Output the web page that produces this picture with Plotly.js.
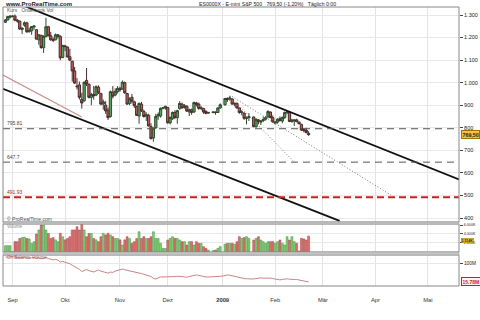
<!DOCTYPE html>
<html><head><meta charset="utf-8">
<script src="https://cdn.plot.ly/plotly-3.0.1.min.js"></script>
<style>html,body{margin:0;padding:0;background:#fff}#chart{width:480px;height:320px}</style>
</head><body><div id="chart"></div>
<script>
const dates = [
 '2008-08-27','2008-08-28','2008-08-29',
 '2008-09-01','2008-09-02','2008-09-03','2008-09-04','2008-09-05','2008-09-08','2008-09-09','2008-09-10','2008-09-11','2008-09-12',
 '2008-09-15','2008-09-16','2008-09-17','2008-09-18','2008-09-19','2008-09-22','2008-09-23','2008-09-24','2008-09-25','2008-09-26','2008-09-29','2008-09-30',
 '2008-10-01','2008-10-02','2008-10-03','2008-10-06','2008-10-07','2008-10-08','2008-10-09','2008-10-10','2008-10-13','2008-10-14','2008-10-15','2008-10-16',
 '2008-10-17','2008-10-20','2008-10-21','2008-10-22','2008-10-23','2008-10-24','2008-10-27','2008-10-28','2008-10-29','2008-10-30','2008-10-31',
 '2008-11-03','2008-11-04','2008-11-05','2008-11-06','2008-11-07','2008-11-10','2008-11-11','2008-11-12','2008-11-13','2008-11-14',
 '2008-11-17','2008-11-18','2008-11-19','2008-11-20','2008-11-21','2008-11-24','2008-11-25','2008-11-26','2008-11-27','2008-11-28',
 '2008-12-01','2008-12-02','2008-12-03','2008-12-04','2008-12-05','2008-12-08','2008-12-09','2008-12-10','2008-12-11','2008-12-12',
 '2008-12-15','2008-12-16','2008-12-17','2008-12-18','2008-12-19','2008-12-22','2008-12-23','2008-12-24','2008-12-26','2008-12-29','2008-12-30','2008-12-31',
 '2009-01-02','2009-01-05','2009-01-06','2009-01-07','2009-01-08','2009-01-09','2009-01-12','2009-01-13','2009-01-14','2009-01-15','2009-01-16',
 '2009-01-20','2009-01-21','2009-01-22','2009-01-23','2009-01-26','2009-01-27','2009-01-28','2009-01-29','2009-01-30',
 '2009-02-02','2009-02-03','2009-02-04','2009-02-05','2009-02-06','2009-02-09','2009-02-10','2009-02-11','2009-02-12','2009-02-13',
 '2009-02-16','2009-02-17','2009-02-18','2009-02-19','2009-02-20'
];
const open = [1268,1278,1290,
 1294,1295,1277,1273,1236,1255,1265,1226,1230,1247,1235,1190,1210,1155,1205,1248,1208,1190,1190,1205,1205,1112,
 1163,1158,1115,1095,1052,985,990,925,920,1010,993,935,948,945,980,952,905,900,878,850,958,945,960,
 975,972,1000,952,908,935,915,895,852,905,872,852,855,805,755,800,852,852,886,888,
 890,822,840,868,845,885,905,890,895,870,880,870,910,905,886,886,872,865,868,870,868,888,
 902,930,928,928,905,908,888,868,865,842,845,848,805,835,825,832,838,848,870,845,
 820,825,840,830,845,868,868,828,830,835,825,815,792,790,775];
const high = [1282,1296,1298,
 1298,1302,1282,1275,1245,1272,1270,1244,1250,1255,1238,1215,1212,1210,1288,1252,1225,1200,1218,1215,1210,1168,
 1168,1160,1150,1098,1070,1020,1005,955,1005,1065,996,955,985,988,988,955,925,918,890,965,985,975,985,
 982,1010,1005,955,935,950,920,898,912,915,880,868,862,820,802,862,868,890,892,898,
 892,850,872,878,880,918,912,905,900,885,885,916,915,912,896,888,878,870,872,872,890,908,
 932,935,942,930,912,912,890,878,868,850,865,850,842,838,835,850,852,878,872,855,
 830,842,850,850,872,875,872,840,836,840,828,818,798,800,785];
const low = [1265,1276,1285,
 1290,1272,1266,1234,1216,1248,1222,1222,1212,1235,1192,1168,1150,1132,1200,1205,1186,1180,1188,1195,1100,1108,
 1140,1112,1095,1005,995,970,925,885,915,985,930,900,925,940,950,900,880,862,835,845,930,940,952,
 960,968,950,902,900,908,888,852,818,870,845,830,805,748,738,795,835,845,882,880,
 818,815,835,838,818,880,885,885,870,852,858,866,895,880,878,862,860,862,864,858,866,885,
 898,915,920,902,895,885,862,855,835,815,830,803,800,815,812,825,832,845,842,822,
 815,818,828,820,840,860,825,822,808,825,815,785,780,775,765];
const close = [1278,1293,1295,
 1295,1277,1274,1238,1242,1266,1225,1232,1249,1251,1193,1212,1156,1205,1248,1208,1190,1188,1212,1213,1110,1165,
 1160,1114,1100,1052,998,982,935,910,1002,995,935,948,942,982,955,905,915,875,845,960,940,962,975,
 968,1002,955,905,928,918,898,855,908,875,850,858,808,752,798,850,858,886,888,895,
 822,846,868,846,876,908,888,898,874,880,868,912,904,886,888,870,864,868,870,868,888,902,
 930,926,932,905,908,888,868,870,842,843,850,805,838,828,830,836,845,872,845,826,
 825,838,832,846,868,870,828,834,835,827,818,790,788,779,769.5];
const volumeK = [1400,1400,1400,
 100,2300,2300,3000,3200,3300,3000,2900,1900,2300,4000,4900,6000,6000,4900,4100,3000,3200,2700,2300,4150,3400,
 2700,3000,3400,4900,4900,5600,4900,6300,4900,3400,4100,4100,3000,2700,2300,3400,4150,3800,4150,3800,3400,3000,3000,
 2700,1560,2700,3400,3000,1930,2300,3000,4500,3000,3400,3000,3000,3400,4500,3000,3000,1930,800,800,
 2670,3040,3400,3040,3040,2670,2300,2300,1560,2300,2300,1560,2300,1930,1930,1190,820,440,300,440,820,1190,
 1740,1930,1930,1930,1740,2300,3400,3040,3200,3400,3040,2670,3040,3400,2670,2300,1930,2300,2300,2300,
 1930,2300,2670,1930,1560,3400,2670,3400,2300,1930,200,3040,2900,2670,3514];
const obvM = [126,127,128,
 128,126,124,122,124,126,123,121,123,125,121,124,118,122,124,120,117,114,116,113,104,107,
 103,100,97,90,85,80,72,62,68,71,66,64,60,65,69,64,60,58,55,60,58,64,67,
 70,73,70,68,66,64,62,59,56,53,50,47,44,40,32,29,34,38,38,38,
 37,38,39,40,41,42,40,38,37,40,43,46,47,45,42,40,38,38,38,38,39,41,
 44,47,46,43,41,38,35,33,31,30,29,29,31,33,34,33,34,35,33,31,
 29,28,25,27,29,30,28,29,27,27,25,21,19,17,15.78];

// chart annotations drawn by the user (trend lines, levels)
const upperChannelX = ['2008-09-08','2009-05-20'], upperChannelY = [1340, 571];
const lowerChannelX = ['2008-08-26','2009-03-11'], lowerChannelY = [973, 387];
const thinLineX = ['2008-08-26','2008-10-10'], thinLineY = [1034, 848];
const dotted1X = ['2009-01-06','2009-02-12'], dotted1Y = [940, 647.7];
const dotted2X = ['2009-01-07','2009-04-13'], dotted2Y = [938, 491.93];
const levels = [795.81, 647.7, 491.93];
const levelLabels = ['795.81', '647.7', '491.93'];

const priceTicks = [400,500,600,700,800,900,1000,1100,1200,1300];
const volTicks = [2000,4000,6000];
const volTickText = ['2.000K','4.000K','6.000K'];
const obvTicks = [100];
const obvTickText = ['100M'];
const monthTicks = ['2008-09-01','2008-10-01','2008-11-03','2008-12-01','2009-01-01','2009-02-02','2009-03-02','2009-04-01','2009-05-01'];
const monthLabels = ['Sep','Okt','Nov','Dez','<b>2009</b>','Feb','Mär','Apr','Mai'];
const titleText = 'ES0000X - E-mini S&P 500   769,50 (-1,20%)   Täglich 0:00';

const FONT = '"Liberation Sans", Arial, sans-serif';
const last = close.length - 1;
const isUp = close.map((c,i)=> c >= open[i]);
const volFill = isUp.map(u => u ? '#7fd46f' : '#e07272');
const volEdge = isUp.map(u => u ? '#3f8f3f' : '#a03c3c');

const traces = [
 {type:'candlestick', x:dates, open:open, high:high, low:low, close:close, xaxis:'x', yaxis:'y',
  increasing:{line:{color:'#2e4a2e',width:1}, fillcolor:'#5da35d'},
  decreasing:{line:{color:'#4a2a2a',width:1}, fillcolor:'#b75f5f'},
  whiskerwidth:0, hoverinfo:'skip', showlegend:false},
 {type:'scatter', mode:'lines', x:thinLineX, y:thinLineY, yaxis:'y', line:{color:'#c99090',width:1.2}, hoverinfo:'skip'},
 {type:'scatter', mode:'lines', x:upperChannelX, y:upperChannelY, yaxis:'y', line:{color:'#111',width:1.8}, hoverinfo:'skip'},
 {type:'scatter', mode:'lines', x:lowerChannelX, y:lowerChannelY, yaxis:'y', line:{color:'#111',width:1.8}, hoverinfo:'skip'},
 {type:'scatter', mode:'lines', x:dotted1X, y:dotted1Y, yaxis:'y', line:{color:'#777',width:1,dash:'1px,2px'}, hoverinfo:'skip'},
 {type:'scatter', mode:'lines', x:dotted2X, y:dotted2Y, yaxis:'y', line:{color:'#777',width:1,dash:'1px,2px'}, hoverinfo:'skip'},
 {type:'bar', x:dates, y:volumeK, yaxis:'y2', marker:{color:volFill, line:{color:volEdge,width:0.5}}, hoverinfo:'skip'},
 {type:'scatter', mode:'lines', x:dates, y:obvM, yaxis:'y3', line:{color:'#c98585',width:1}, hoverinfo:'skip'}
];

const mainBottom = 0.2294, volTop = 0.2222, volBottom = 0.1219, oscTop = 0.1111;
const shapes = [];
levels.forEach((lv,i)=>{
  const red = i === 2;
  shapes.push({type:'line', xref:'paper', yref:'y', x0:0, x1:1, y0:lv, y1:lv,
    line:{color: red ? '#cc2020' : '#555', width: red ? 2 : 1, dash: red ? '7px,4px' : '7px,5px'}});
});
[[mainBottom,1],[volBottom,volTop],[0,oscTop]].forEach(d=>{
  shapes.push({type:'rect', xref:'paper', yref:'paper', x0:0, x1:1, y0:d[0], y1:d[1], line:{color:'#888',width:1}, fillcolor:'rgba(0,0,0,0)', layer:'above'});
});
shapes.push({type:'rect', xref:'paper', yref:'paper', x0:0, x1:1, y0:volTop, y1:mainBottom, line:{color:'#999',width:0.5}, fillcolor:'#c4c4c4'});
shapes.push({type:'rect', xref:'paper', yref:'paper', x0:0, x1:1, y0:oscTop, y1:volBottom, line:{color:'#999',width:0.5}, fillcolor:'#c4c4c4'});

const small = {family:FONT, size:5, color:'#555'};
const annotations = [
 {xref:'paper', yref:'paper', x:0, y:1.011, xanchor:'left', yanchor:'middle', showarrow:false,
  text:'<b>www.ProRealTime.com</b>', font:{family:FONT, size:6, color:'#222'}},
 {xref:'paper', yref:'paper', x:0.579, y:1.011, xanchor:'center', yanchor:'middle', showarrow:false,
  text:titleText, font:{family:FONT, size:5.2, color:'#222'}},
 {xref:'paper', yref:'paper', x:0.004, y:0.99, xanchor:'left', yanchor:'middle', showarrow:false,
  text:'Kurs   Orderbook Vol', font:small},
 {xref:'paper', yref:'paper', x:0.004, y:0.240, xanchor:'left', yanchor:'middle', showarrow:false,
  text:'© ProRealTime.com', font:small},
 {xref:'paper', yref:'paper', x:0.004, y:0.214, xanchor:'left', yanchor:'middle', showarrow:false,
  text:'Volume', font:{family:FONT, size:4.5, color:'#888'}},
 {xref:'paper', yref:'paper', x:0.004, y:0.103, xanchor:'left', yanchor:'middle', showarrow:false,
  text:'On Balance Volume', font:{family:FONT, size:4.5, color:'#a06060'}},
 {xref:'paper', yref:'y', x:1.004, y:close[last], xanchor:'left', yanchor:'middle', showarrow:false,
  text:'<b>'+close[last].toFixed(2).replace('.',',')+'</b>', font:{family:FONT,size:5.3,color:'#222'},
  bgcolor:'#f2c440', bordercolor:'#9a7400', borderwidth:1, borderpad:0.5},
 {xref:'paper', yref:'y2', x:1.004, y:volumeK[last], xanchor:'left', yanchor:'middle', yshift:-4.5, showarrow:false,
  text:'<b>'+(volumeK[last]/1000).toFixed(3)+'K</b>', font:{family:FONT,size:3.5,color:'#222'},
  bgcolor:'#f2c440', bordercolor:'#9a7400', borderwidth:0.5, borderpad:0},
 {xref:'paper', yref:'y3', x:1.004, y:obvM[last], xanchor:'left', yanchor:'middle', showarrow:false,
  text:'<b>'+obvM[last].toFixed(2)+'M</b>', font:{family:FONT,size:5,color:'#cc2020'},
  bgcolor:'#fff4f4', bordercolor:'#cc2020', borderwidth:1, borderpad:0.5}
];
levels.forEach((lv,i)=>{
  annotations.push({xref:'paper', yref:'y', x:0.004, y:lv, xanchor:'left', yanchor:'bottom', yshift:0.5, showarrow:false,
    text:levelLabels[i], font:{family:FONT, size:5, color: i===2 ? '#aa2020' : '#444'}});
});

const yCommon = {side:'right', ticks:'outside', ticklen:3, tickcolor:'#444', tickwidth:1,
  tickfont:{family:FONT, size:5.5, color:'#222'}, gridcolor:'#e8e8e8', gridwidth:1,
  zeroline:false, showline:false, fixedrange:true};

const layout = {
 width:480, height:320, margin:{l:3, r:21, t:7, b:34},
 paper_bgcolor:'#fff', plot_bgcolor:'#fff', showlegend:false, separators:',.',
 font:{family:FONT, size:6, color:'#333'}, bargap:0.2, boxgap:0.05, boxgroupgap:0, dragmode:false,
 xaxis:{type:'date', range:['2008-08-26','2009-05-20'], rangebreaks:[{bounds:['sat','mon']}],
   tickmode:'array', tickvals:monthTicks, ticktext:monthLabels, ticks:'', ticklabelstandoff:9,
   tickfont:{family:FONT, size:5.8, color:'#333'}, showgrid:true, gridcolor:'#e3e3e3', gridwidth:1,
   rangeslider:{visible:false}, anchor:'y3', showline:false, zeroline:false, fixedrange:true},
 yaxis:Object.assign({}, yCommon, {domain:[mainBottom,1], range:[382.3,1335.5], tickmode:'array', tickvals:priceTicks, tickformat:',d'}),
 yaxis2:Object.assign({}, yCommon, {domain:[volBottom,volTop], range:[0,6222], tickmode:'array', tickvals:volTicks, ticktext:volTickText, tickfont:{family:FONT,size:3.7,color:'#222'}}),
 yaxis3:Object.assign({}, yCommon, {domain:[0,oscTop], range:[-2,135.5], tickmode:'array', tickvals:obvTicks, ticktext:obvTickText, tickfont:{family:FONT,size:4.8,color:'#222'}}),
 shapes:shapes, annotations:annotations
};

Plotly.newPlot('chart', traces, layout, {displayModeBar:false, staticPlot:true});
</script>
</body></html>
